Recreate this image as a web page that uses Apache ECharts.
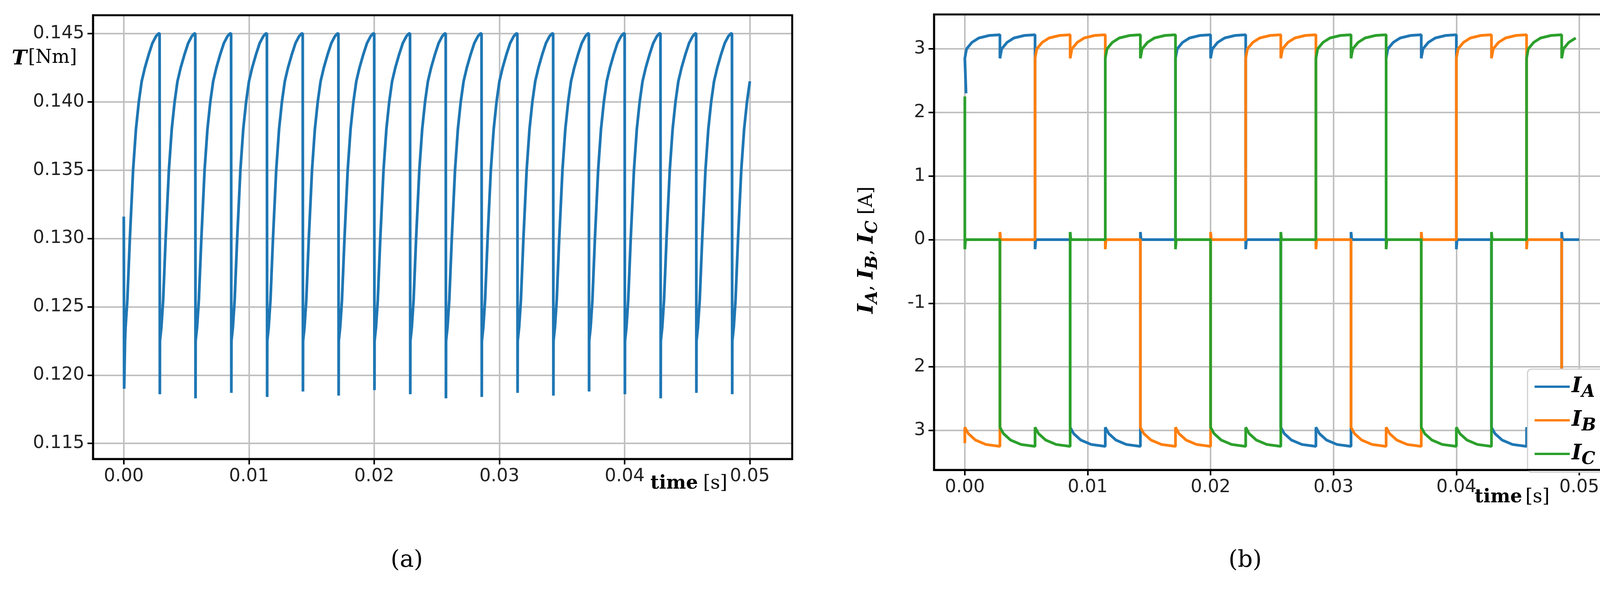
<!DOCTYPE html>
<head>
<meta charset="utf-8">
<title>ECharts</title>
<style>html,body{margin:0;background:#fff}</style>
</head>
<body>
<div id="main" style="width:4152px;height:1513px"></div>
<script src="https://cdn.jsdelivr.net/npm/echarts@6/dist/echarts.min.js"></script>
<script>
// torque: commutation instants (s) and the minimum reached at each drop
var period = 0.002857;
var torqueDrops = [0.00286,0.00571,0.00857,0.01143,0.01429,0.01714,0.02,0.02286,0.02571,0.02857,0.03143,0.03429,0.03714,0.04,0.04286,0.04571,0.04857];
var torqueMins = [0.1186,0.1183,0.1187,0.1184,0.1188,0.1185,0.1189,0.1186,0.1183,0.1184,0.1187,0.1185,0.1188,0.1186,0.1183,0.1187,0.1186];
// one torque cycle: phase fraction / value
var cyclePhase = [0.01,0.05,0.1,0.17,0.26,0.34,0.42,0.5,0.59,0.7,0.8,0.9,0.97];
var cycleValue = [0.1225,0.1235,0.1255,0.130,0.135,0.138,0.140,0.1415,0.1425,0.1435,0.1443,0.1448,0.145];
var torqueStart = [[0,0.1316],[0.00003,0.1190],[0.0001,0.1225]];
var torqueEnd = [[0.05,0.1415]];

// currents: state of each phase in each 60 deg interval (T = +, B = -, 0 = off)
var stateA = ['T','T','0','B','B','0','T','T','0','B','B','0','T','T','0','B','B','0'];
var stateB = ['B','0','T','T','0','B','B','0','T','T','0','B','B','0','T','T','0','B'];
var stateC = ['0','B','B','0','T','T','0','B','B','0','T','T','0','B','B','0','T','T'];
var topPhase = [0,0.05,0.2,0.4,0.7,1];
var topValue = [2.85,3.0,3.1,3.17,3.21,3.22];
var botPhase = [0,0.1,0.3,0.6,1];
var botValue = [-2.95,-3.05,-3.15,-3.22,-3.25];
var xTicks = [0,0.01,0.02,0.03,0.04,0.05];
var tTicks = [0.115,0.12,0.125,0.13,0.135,0.14,0.145];
var iTicks = [-3,-2,-1,0,1,2,3];

function torqueData(){
  var d = torqueStart.slice();
  var t0 = 0.0001;
  for (var k = 0; k <= torqueDrops.length; k++){
    var span = k == 0 ? torqueDrops[0] : period;
    var start = k == 0 ? 0 : torqueDrops[k-1];
    for (var j = 0; j < cyclePhase.length; j++){
      var t = start + cyclePhase[j]*span;
      if (t > 0.05) break;
      if (t > t0) d.push([t, cycleValue[j]]);
    }
    if (k < torqueDrops.length){
      d.push([torqueDrops[k], 0.145]);
      d.push([torqueDrops[k]+0.00002, torqueMins[k]]);
    }
  }
  d.push(torqueEnd[0]);
  return d;
}

function currentData(states, first){
  var d = [first];
  for (var i = 0; i < states.length; i++){
    var s = states[i], t0 = i*period, t1 = Math.min((i+1)*period, 0.05);
    var prev = i > 0 ? states[i-1] : '';
    if (s == '0'){
      d.push([t0, prev == 'B' ? 0.12 : -0.15]);
      d.push([t0+0.00006, 0]);
      d.push([t1, 0]);
    } else {
      var ph = s == 'T' ? topPhase : botPhase, vv = s == 'T' ? topValue : botValue;
      if (prev == '0') d.push([t0, 0]);
      for (var j = 0; j < ph.length; j++){
        var t = t0 + ph[j]*period;
        if (t > 0.05) break;
        d.push([t, vv[j]]);
      }
    }
  }
  return d;
}

var colors = ['#1f77b4','#ff7f0e','#2ca02c'];
var axisLab = {color:'#222', fontSize:46, fontFamily:'DejaVu Sans', margin:22};
var gridLine = {show:true, lineStyle:{color:'#c0c0c0', width:4}};
function tick(vals){ return {show:true, length:14, inside:false, customValues:vals, lineStyle:{color:'#000', width:4}}; }
var blackLine = {show:true, onZero:false, lineStyle:{color:'#000', width:5}};

var chart = echarts.init(document.getElementById('main'));
chart.setOption({
  animation:false,
  grid:[
    {left:238, right:2124, top:39, bottom:338, show:true, borderColor:'#000', borderWidth:5, z:5},
    {left:2391, right:32, top:37, bottom:310, show:true, borderColor:'#000', borderWidth:5, z:5}
  ],
  xAxis:[
    {gridIndex:0, type:'value', min:-0.00246, max:0.05338, axisLine:blackLine, axisTick:tick(xTicks), splitLine:gridLine,
     axisLabel:Object.assign({}, axisLab, {customValues:xTicks, formatter:function(v){return v.toFixed(2);}})},
    {gridIndex:1, type:'value', min:-0.00251, max:0.05245, axisLine:blackLine, axisTick:tick(xTicks), splitLine:gridLine,
     axisLabel:Object.assign({}, axisLab, {customValues:xTicks, formatter:function(v){return v.toFixed(2);}})}
  ],
  yAxis:[
    {gridIndex:0, type:'value', min:0.11386, max:0.14634, axisLine:blackLine, axisTick:tick(tTicks), splitLine:gridLine,
     axisLabel:Object.assign({}, axisLab, {customValues:tTicks, formatter:function(v){return v.toFixed(3);}})},
    {gridIndex:1, type:'value', min:-3.62, max:3.54, axisLine:blackLine, axisTick:tick(iTicks), splitLine:gridLine,
     axisLabel:Object.assign({}, axisLab, {customValues:iTicks, formatter:function(v){
       var r = Math.round(v); return r == -1 ? '-1' : String(Math.abs(r));}})}
  ],
  legend:{
    right:50, top:945, orient:'vertical', itemWidth:90, itemHeight:6, itemGap:22,
    backgroundColor:'#fff', borderColor:'#d0d0d0', borderWidth:3, borderRadius:10, padding:[18,16,10,18],
    icon:'rect',
    data:['IA','IB','IC'],
    formatter:function(n){return '{i|I}{s|' + n.charAt(1) + '}';},
    textStyle:{rich:{i:{fontFamily:'DejaVu Serif', fontStyle:'italic', fontWeight:'bold', fontSize:54, color:'#000'},
                     s:{fontFamily:'DejaVu Serif', fontStyle:'italic', fontWeight:'bold', fontSize:44, color:'#000', padding:[30,0,0,0]}}}
  },
  graphic:[
    {type:'text', left:30, top:125, style:{text:'T', font:'italic bold 52px DejaVu Serif', fill:'#000'}},
    {type:'text', left:72, top:125, style:{text:'[Nm]', font:'48px DejaVu Serif', fill:'#000'}},
    {type:'text', left:1665, top:1215, style:{text:'time', font:'bold 48px DejaVu Serif', fill:'#000'}},
    {type:'text', left:1800, top:1215, style:{text:'[s]', font:'48px DejaVu Serif', fill:'#000'}},
    {type:'text', left:3775, top:1250, style:{text:'time', font:'bold 48px DejaVu Serif', fill:'#000'}},
    {type:'text', left:3905, top:1250, style:{text:'[s]', font:'48px DejaVu Serif', fill:'#000'}},
    {type:'text', x:2220, y:640, rotation:Math.PI/2, style:{
      text:'{i|I}{s|A}{n|, }{i|I}{s|B}{n|, }{i|I}{s|C}{n| [A]}', align:'center', verticalAlign:'middle',
      rich:{i:{font:'italic bold 54px DejaVu Serif', fill:'#000'}, s:{font:'italic bold 42px DejaVu Serif', fill:'#000', padding:[28,0,0,0]},
            n:{font:'48px DejaVu Serif', fill:'#000'}}}},
    {type:'text', left:1000, top:1405, style:{text:'(a)', font:'60px DejaVu Serif', fill:'#000'}},
    {type:'text', left:3145, top:1405, style:{text:'(b)', font:'60px DejaVu Serif', fill:'#000'}}
  ],
  series:[
    {name:'T', type:'line', xAxisIndex:0, yAxisIndex:0, showSymbol:false, color:colors[0], lineStyle:{width:7, color:colors[0]}, data:torqueData()},
    {name:'IA', type:'line', xAxisIndex:1, yAxisIndex:1, showSymbol:false, color:colors[0], lineStyle:{width:7, color:colors[0]}, data:currentData(stateA,[0.0001,2.3])},
    {name:'IB', type:'line', xAxisIndex:1, yAxisIndex:1, showSymbol:false, color:colors[1], lineStyle:{width:7, color:colors[1]}, data:currentData(stateB,[0,-3.2])},
    {name:'IC', type:'line', xAxisIndex:1, yAxisIndex:1, showSymbol:false, color:colors[2], lineStyle:{width:7, color:colors[2]}, data:currentData(stateC,[0,2.25])}
  ]
});
</script>
</body>
